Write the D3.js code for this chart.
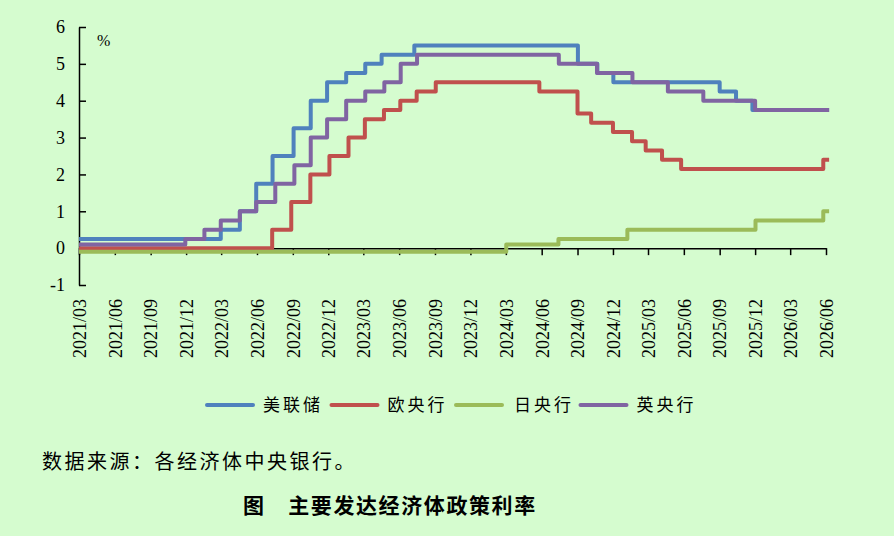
<!DOCTYPE html>
<html>
<head>
<meta charset="utf-8">
<script src="https://cdn.jsdelivr.net/npm/d3@7"></script>
<style>
    body { margin: 0; background: #d5fccf; }
    svg { display: block; background: #d5fccf; }
    .axis text { font-family: "Liberation Serif", "Times New Roman", serif; font-size: 18px; fill: #000; }
    .axis path, .axis line { stroke: #000; stroke-width: 1.5px; }
    .x-labels .domain { display: none; }
    .legend-text { font-family: "Noto Sans CJK SC", sans-serif; font-size: 17px; letter-spacing: 3px; fill: #000; }
    .note { font-family: "Noto Sans CJK SC", sans-serif; font-size: 20px; letter-spacing: 2.5px; fill: #000; }
    .title { font-family: "Noto Sans CJK SC", sans-serif; font-size: 21px; font-weight: bold; letter-spacing: 1.6px; fill: #000; }
</style>
</head>
<body>
<svg id="chart"></svg>
<script>
// series names, in legend / drawing order
const seriesNames = ['美联储', '欧央行', '日央行', '英央行'];

// each series: dates where the rate changed, and the rate from that date on (%)
const fedDates = ['2021-03-18', '2022-03-17', '2022-05-05', '2022-06-16', '2022-07-28', '2022-09-20',
    '2022-11-03', '2022-12-15', '2023-02-02', '2023-03-23', '2023-05-04', '2023-07-27',
    '2024-09-19', '2024-11-08', '2024-12-19', '2025-09-18', '2025-10-30', '2025-12-11', '2026-06-26'];
const fedRates = [0.25, 0.5, 1.0, 1.75, 2.5, 3.25, 4.0, 4.5, 4.75, 5.0, 5.25, 5.5,
    5.0, 4.75, 4.5, 4.25, 4.0, 3.75, 3.75];

const ecbDates = ['2021-03-18', '2022-07-27', '2022-09-14', '2022-11-02', '2022-12-21', '2023-02-08',
    '2023-03-22', '2023-05-10', '2023-06-21', '2023-08-02', '2023-09-20', '2024-06-12',
    '2024-09-18', '2024-10-23', '2024-12-18', '2025-02-05', '2025-03-12', '2025-04-23',
    '2025-06-11', '2026-06-11', '2026-06-26'];
const ecbRates = [0, 0.5, 1.25, 2.0, 2.5, 3.0, 3.5, 3.75, 4.0, 4.25, 4.5, 4.25,
    3.65, 3.4, 3.15, 2.9, 2.65, 2.4, 2.15, 2.4, 2.4];

const bojDates = ['2021-03-18', '2024-03-19', '2024-07-31', '2025-01-24', '2025-12-19', '2026-06-11', '2026-06-26'];
const bojRates = [-0.1, 0.1, 0.25, 0.5, 0.75, 1.0, 1.0];

const boeDates = ['2021-03-18', '2021-12-16', '2022-02-03', '2022-03-17', '2022-05-05', '2022-06-16',
    '2022-08-04', '2022-09-22', '2022-11-03', '2022-12-15', '2023-02-02', '2023-03-23',
    '2023-05-11', '2023-06-22', '2023-08-03', '2024-08-01', '2024-11-07', '2025-02-06',
    '2025-05-08', '2025-08-07', '2025-12-18', '2026-06-26'];
const boeRates = [0.1, 0.25, 0.5, 0.75, 1.0, 1.25, 1.75, 2.25, 3.0, 3.5, 4.0, 4.25,
    4.5, 5.0, 5.25, 5.0, 4.75, 4.5, 4.25, 4.0, 3.75, 3.75];

const seriesColors = ['#4f81bd', '#c0504d', '#9bbb59', '#8064a2'];

// quarterly tick labels along the bottom
const tickLabels = ['2021/03', '2021/06', '2021/09', '2021/12', '2022/03', '2022/06', '2022/09', '2022/12',
    '2023/03', '2023/06', '2023/09', '2023/12', '2024/03', '2024/06', '2024/09', '2024/12',
    '2025/03', '2025/06', '2025/09', '2025/12', '2026/03', '2026/06'];
const yTicks = [-1, 0, 1, 2, 3, 4, 5, 6];

const noteText = '数据来源：各经济体中央银行。';
const titleText = '图　主要发达经济体政策利率';

class StepChart {
    constructor(config){
        this.parent = config.parent;
        this.width = config.width;
        this.height = config.height;
        this.initVis();
    }

    initVis(){
        let vis = this;
        vis.parseDay = d3.timeParse('%Y-%m-%d');
        vis.parseTick = d3.timeParse('%Y/%m/%d');

        // tick labels sit at mid month
        vis.tickDates = tickLabels.map(t => vis.parseTick(t + '/18'));

        vis.xScale = d3.scaleTime()
            .domain([vis.tickDates[0], vis.tickDates[vis.tickDates.length - 1]])
            .range([79, 826]);

        vis.yScale = d3.scaleLinear()
            .domain([-1, 6])
            .range([285, 27]);

        vis.svg = d3.select(vis.parent)
            .attr('width', vis.width)
            .attr('height', vis.height);

        // build a point list for each bank from its named arrays
        let dates = [fedDates, ecbDates, bojDates, boeDates];
        let rates = [fedRates, ecbRates, bojRates, boeRates];
        vis.series = seriesNames.map((name, i) => ({
            name: name,
            color: seriesColors[i],
            values: dates[i].map((d, j) => ({date: vis.parseDay(d), rate: rates[i][j]}))
        }));

        vis.line = d3.line()
            .x(d => vis.xScale(d.date))
            .y(d => vis.yScale(d.rate))
            .curve(d3.curveStepAfter);
    }

    renderVis(){
        let vis = this;

        // zero line with ticks hanging below it, drawn under the series
        let zeroAxis = d3.axisBottom(vis.xScale)
            .tickValues(vis.tickDates)
            .tickSizeInner(7)
            .tickSizeOuter(0)
            .tickFormat('');
        vis.svg.append('g')
            .attr('class', 'axis x-axis')
            .attr('transform', `translate(0,${vis.yScale(0)})`)
            .call(zeroAxis);

        // y axis with inward ticks, plain hyphen for the minus sign
        let yAxis = d3.axisLeft(vis.yScale)
            .tickValues(yTicks)
            .tickSizeInner(-7)
            .tickSizeOuter(0)
            .tickPadding(14)
            .tickFormat(d => String(d));
        vis.svg.append('g')
            .attr('class', 'axis y-axis')
            .attr('transform', `translate(${vis.xScale.range()[0]},0)`)
            .call(yAxis);

        vis.svg.append('text')
            .attr('x', 97)
            .attr('y', 46)
            .style('font-family', '"Liberation Serif", serif')
            .style('font-size', '16px')
            .text('%');

        // rotated date labels under the plot
        let labelAxis = d3.axisBottom(vis.xScale)
            .tickValues(vis.tickDates)
            .tickSize(0)
            .tickFormat((d, i) => tickLabels[i]);
        let labels = vis.svg.append('g')
            .attr('class', 'axis x-labels')
            .attr('transform', 'translate(0,299)')
            .call(labelAxis);
        labels.selectAll('.tick line').remove();
        labels.selectAll('.tick text')
            .attr('transform', 'rotate(-90)')
            .attr('x', 0)
            .attr('y', 0)
            .attr('dy', '0.35em')
            .style('text-anchor', 'end');

        // step lines
        vis.svg.selectAll('.rate-line')
            .data(vis.series)
            .join('path')
            .attr('class', 'rate-line')
            .attr('d', d => vis.line(d.values))
            .attr('fill', 'none')
            .attr('stroke', d => d.color)
            .attr('stroke-width', 4)
            .attr('stroke-linejoin', 'round');

        // legend
        let legend = vis.svg.selectAll('.legend')
            .data(vis.series)
            .join('g')
            .attr('class', 'legend')
            .attr('transform', (d, i) => `translate(${207 + i * 124.5},405)`);
        legend.append('line')
            .attr('x1', 0)
            .attr('x2', 46)
            .attr('stroke', d => d.color)
            .attr('stroke-width', 4)
            .attr('stroke-linecap', 'round');
        legend.append('text')
            .attr('class', 'legend-text')
            .attr('x', (d, i) => i === 2 ? 58 : 56)
            .attr('dy', '0.35em')
            .text(d => d.name);

        vis.svg.append('text')
            .attr('class', 'note')
            .attr('x', 42)
            .attr('y', 469)
            .text(noteText);

        vis.svg.append('text')
            .attr('class', 'title')
            .attr('x', 243)
            .attr('y', 513)
            .text(titleText);
    }
}

let chart = new StepChart({parent: '#chart', width: 894, height: 536});
chart.renderVis();
</script>
</body>
</html>
